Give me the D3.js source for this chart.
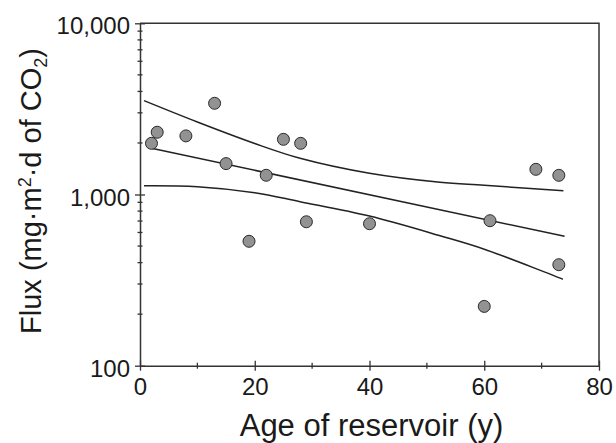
<!DOCTYPE html>
<html><head><meta charset="utf-8">
<script src="https://cdn.jsdelivr.net/npm/d3@7"></script>
<style>
html,body{margin:0;padding:0;background:#fff;}
svg text{font-family:"Liberation Sans",Arial,sans-serif;fill:#1a1a1a;}
</style></head>
<body>
<svg id="c" width="616" height="443"></svg>
<script>
// data
const ages = [2, 3, 8, 13, 15, 19, 22, 25, 28, 29, 40, 60, 61, 69, 73, 73];
const fluxes = [1990, 2310, 2200, 3410, 1515, 533, 1295, 2100, 1990, 693, 675, 222, 703, 1403, 1294, 389];
const fitAges = [2, 74];
const fitFlux = [1862, 570];
const upperAges = [0.7, 10, 20, 27.9, 40, 52.3, 60, 73.8];
const upperFlux = [3532, 2650, 1985, 1627, 1330, 1178, 1132, 1052];
const lowerAges = [0.7, 10, 20, 27.9, 40, 52.3, 60, 73.7];
const lowerFlux = [1125, 1111, 1025, 908, 748, 574, 479, 320];
const xMajorTicks = [0, 20, 40, 60, 80];
const xMinorTicks = [10, 30, 50, 70];
const yMajorTicks = [100, 1000, 10000];
const yMajorLabels = ["100", "1,000", "10,000"];
const yMinorTicks = [200, 300, 400, 500, 600, 700, 800, 900, 2000, 3000, 4000, 5000, 6000, 7000, 8000, 9000];

const L = 140, R = 599, T = 23.3, B = 365.7;
const svg = d3.select("#c");
const x = d3.scaleLinear().domain([0, 80]).range([L, R]);
const y = d3.scaleLog().domain([100, 10000]).range([B, T]);
const axisColor = "#333";
const ff = '"Liberation Sans",Arial,sans-serif';

// frame (top & right)
svg.append("path")
  .attr("d", `M${L},${T}H${R}V${B}`)
  .attr("fill", "none").attr("stroke", axisColor).attr("stroke-width", 1.5);

// x axis
const gx = svg.append("g").attr("transform", `translate(0,${B})`)
  .call(d3.axisBottom(x).tickValues(xMajorTicks).tickSize(5).tickSizeOuter(0).tickPadding(0));
gx.select(".domain").attr("stroke", axisColor).attr("stroke-width", 1.5);
gx.selectAll(".tick line").attr("y1", -5).attr("y2", 5).attr("stroke", axisColor).attr("stroke-width", 1.3);
gx.selectAll(".tick text").attr("y", 29).attr("dy", null).attr("font-size", 24).attr("fill", "#1a1a1a")
  .style("font-family", ff);
gx.selectAll(".minor").data(xMinorTicks).join("line").attr("class", "minor")
  .attr("x1", d => x(d)).attr("x2", d => x(d)).attr("y1", -3).attr("y2", 3)
  .attr("stroke", axisColor).attr("stroke-width", 1.3);

// y axis
const gy = svg.append("g").attr("transform", `translate(${L},0)`)
  .call(d3.axisLeft(y).tickValues(yMajorTicks).tickFormat((d, i) => yMajorLabels[i]).tickSize(5).tickSizeOuter(0).tickPadding(0));
gy.select(".domain").attr("stroke", axisColor).attr("stroke-width", 1.5);
gy.selectAll(".tick line").attr("x1", -5).attr("x2", 5).attr("stroke", axisColor).attr("stroke-width", 1.3);
gy.selectAll(".tick text").attr("x", -10).attr("dy", "0.44em").attr("font-size", 24).attr("fill", "#1a1a1a")
  .style("font-family", ff);
gy.selectAll(".minor").data(yMinorTicks).join("line").attr("class", "minor")
  .attr("y1", d => y(d)).attr("y2", d => y(d)).attr("x1", -2.5).attr("x2", 2.5)
  .attr("stroke", axisColor).attr("stroke-width", 1.3);

// lines
const line = d3.line().x(d => x(d[0])).y(d => y(d[1])).curve(d3.curveCatmullRom.alpha(0.5));
const series = [
  d3.zip(upperAges, upperFlux),
  d3.zip(fitAges, fitFlux),
  d3.zip(lowerAges, lowerFlux)
];
svg.selectAll(".fit").data(series).join("path").attr("class", "fit")
  .attr("d", line).attr("fill", "none").attr("stroke", "#222").attr("stroke-width", 1.5);

// points
svg.selectAll(".pt").data(d3.zip(ages, fluxes)).join("circle").attr("class", "pt")
  .attr("cx", d => x(d[0])).attr("cy", d => y(d[1])).attr("r", 6)
  .attr("fill", "#929292").attr("stroke", "#2a2a2a").attr("stroke-width", 1);

// axis titles
svg.append("text").attr("x", (L + R) / 2 + 2).attr("y", 436).attr("text-anchor", "middle")
  .attr("font-size", 31).text("Age of reservoir (y)");

const yt = svg.append("text").attr("transform", `translate(41,191) rotate(-90)`)
  .attr("text-anchor", "middle").attr("font-size", 29);
yt.append("tspan").text("Flux (mg·m");
yt.append("tspan").attr("font-size", 18).attr("dy", -10).text("2");
yt.append("tspan").attr("dy", 10).text("·d of CO");
yt.append("tspan").attr("font-size", 18).attr("dy", 6).text("2");
yt.append("tspan").attr("dy", -6).text(")");
</script>
</body></html>
